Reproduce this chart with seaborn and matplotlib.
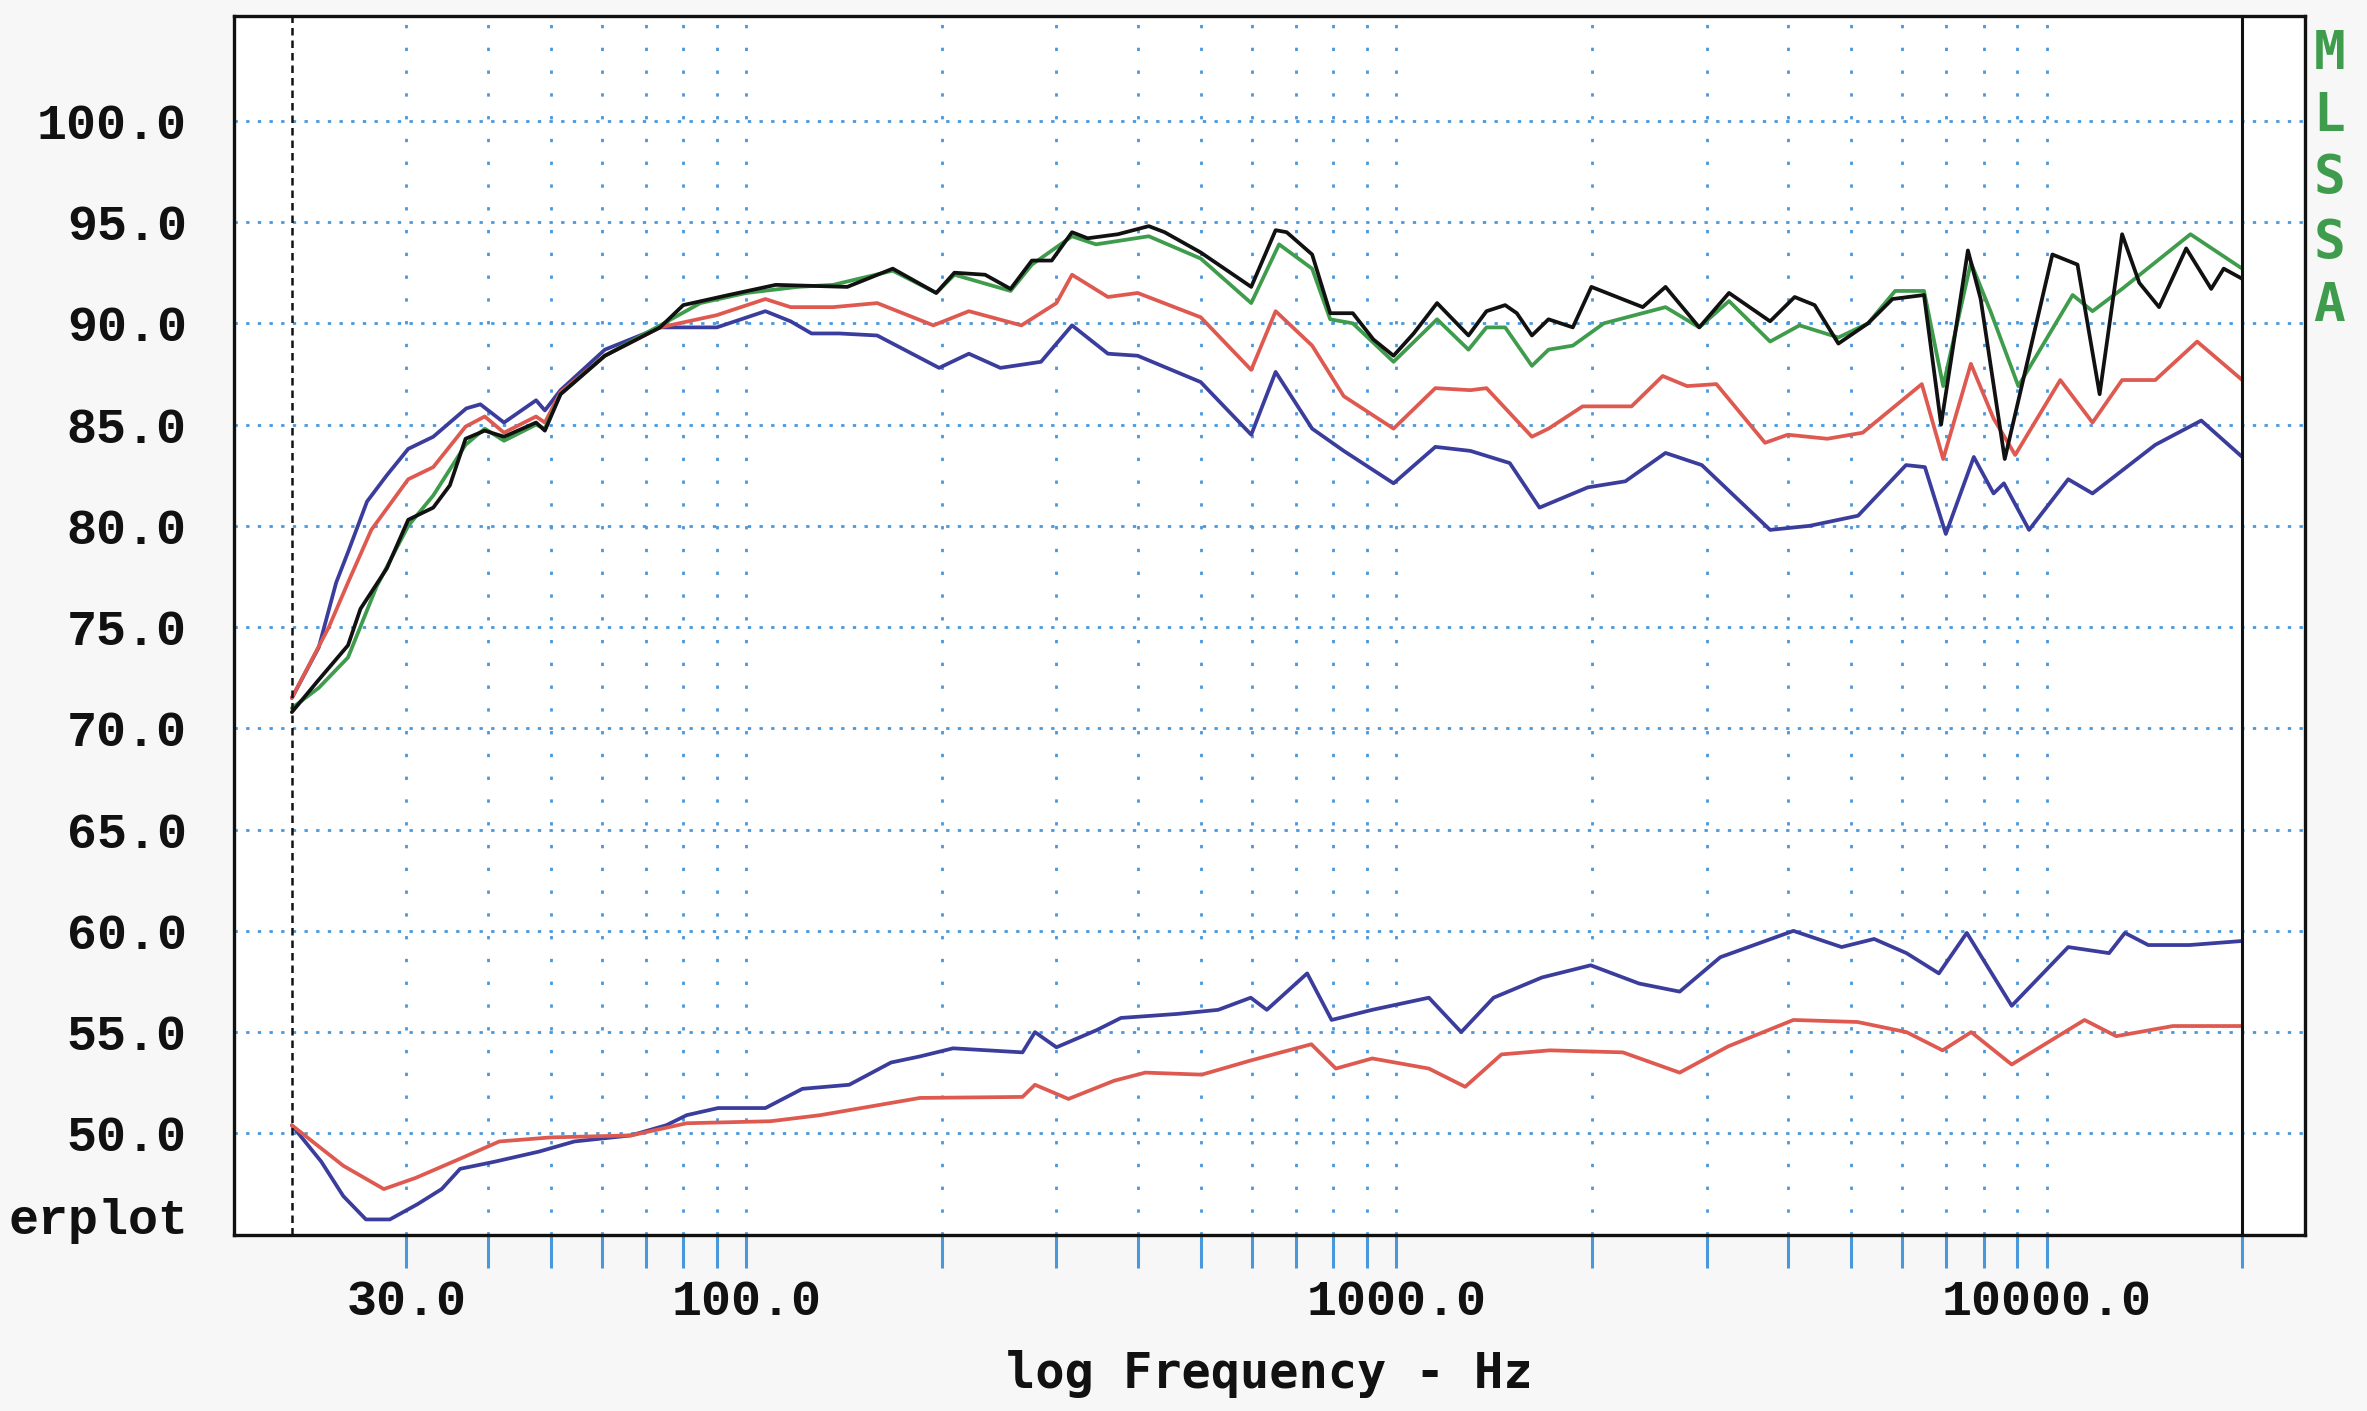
import matplotlib
matplotlib.use('Agg')
from matplotlib import pyplot as plt
import seaborn as sns

# upper group (frequency response)
black_f = [20, 22, 24.4, 25.5, 28, 30.2, 33, 35, 37, 39.6, 42.4, 47.5, 49, 51.8, 60.6, 73.7, 80, 94, 111,
           143, 168, 196, 209, 233, 255, 275, 295, 317, 335, 373, 416, 440, 500, 598, 652, 678, 742, 791,
           857, 922, 990, 1063, 1155, 1291, 1376, 1470, 1532, 1616, 1714, 1868, 1995, 2393, 2594, 2923,
           3248, 3757, 4098, 4399, 4785, 5315, 5795, 6480, 6884, 7570, 7920, 8625, 10210, 11160, 12070,
           13070, 13890, 14900, 16400, 17920, 18730, 20000]
black_v = [70.8, 72.4, 74.1, 75.9, 77.9, 80.3, 80.9, 82.0, 84.3, 84.7, 84.4, 85.1, 84.7, 86.5, 88.4, 89.8,
           90.9, 91.4, 91.9, 91.8, 92.7, 91.5, 92.5, 92.4, 91.7, 93.1, 93.1, 94.5, 94.2, 94.4, 94.8, 94.5,
           93.5, 91.8, 94.6, 94.5, 93.4, 90.5, 90.5, 89.2, 88.4, 89.5, 91.0, 89.4, 90.6, 90.9, 90.5, 89.4,
           90.2, 89.8, 91.8, 90.8, 91.8, 89.8, 91.5, 90.1, 91.3, 90.9, 89.0, 90.0, 91.2, 91.4, 85.0, 93.6,
           91.2, 83.3, 93.4, 92.9, 86.5, 94.4, 92.0, 90.8, 93.7, 91.7, 92.7, 92.2]

green_f = [20, 22, 24.4, 27, 30.2, 33, 37, 39.6, 42.4, 47.5, 49, 51.8, 60.6, 73.7, 85, 100, 120, 136, 168,
           196, 209, 255, 275, 317, 345, 416, 500, 598, 660, 742, 791, 857, 990, 1155, 1291, 1376, 1470,
           1616, 1714, 1868, 2085, 2594, 2923, 3248, 3757, 4170, 4785, 5315, 5850, 6480, 6935, 7650,
           8200, 9050, 10970, 11770, 13070, 16650, 20000]
green_v = [71.0, 72.0, 73.5, 77.0, 80.0, 81.5, 84.0, 84.8, 84.2, 85.0, 84.8, 86.5, 88.4, 89.9, 91.0, 91.5,
           91.8, 91.9, 92.6, 91.5, 92.4, 91.6, 92.9, 94.3, 93.9, 94.3, 93.2, 91.0, 93.9, 92.7, 90.2, 90.0,
           88.1, 90.2, 88.7, 89.8, 89.8, 87.9, 88.7, 88.9, 90.0, 90.8, 89.8, 91.1, 89.1, 89.9, 89.3, 90.0,
           91.6, 91.6, 86.9, 93.0, 90.6, 86.9, 91.4, 90.6, 91.7, 94.4, 92.7]

red_f = [20, 22.8, 24.4, 26.5, 30.2, 33, 37, 39.6, 42.4, 47.5, 49, 51.8, 60.6, 73.7, 90, 107, 117, 136,
         159, 194, 220, 265, 300, 317, 360, 400, 500, 598, 652, 742, 830, 990, 1148, 1300, 1376, 1616,
         1714, 1934, 2300, 2568, 2800, 3106, 3690, 4000, 4600, 5215, 6430, 6935, 7650, 8290, 8950,
         10500, 11770, 13070, 14700, 17050, 20000]
red_v = [71.5, 75.0, 77.2, 79.8, 82.3, 82.9, 84.9, 85.4, 84.6, 85.4, 85.1, 86.6, 88.4, 89.8, 90.4, 91.2,
         90.8, 90.8, 91.0, 89.9, 90.6, 89.9, 91.0, 92.4, 91.3, 91.5, 90.3, 87.7, 90.6, 88.9, 86.4, 84.8,
         86.8, 86.7, 86.8, 84.4, 84.8, 85.9, 85.9, 87.4, 86.9, 87.0, 84.1, 84.5, 84.3, 84.6, 87.0, 83.3,
         88.0, 85.3, 83.5, 87.2, 85.1, 87.2, 87.2, 89.1, 87.2]

blue_f = [20, 22, 23.4, 24.4, 26.1, 28, 30.2, 33, 37.1, 39, 42.4, 47.5, 49, 51.8, 60.6, 73.7, 90.1, 107,
          117, 126, 139, 159, 198, 220, 246, 284, 317, 360, 400, 500, 598, 652, 742, 830, 990, 1148, 1300,
          1494, 1660, 1970, 2250, 2594, 2950, 3757, 4320, 5130, 6080, 6500, 7000, 7730, 8290, 8600, 9400,
          10800, 11770, 14700, 17300, 20000]
blue_v = [71.5, 74.0, 77.2, 78.7, 81.2, 82.5, 83.8, 84.4, 85.8, 86.0, 85.1, 86.2, 85.7, 86.7, 88.7, 89.8,
          89.8, 90.6, 90.1, 89.5, 89.5, 89.4, 87.8, 88.5, 87.8, 88.1, 89.9, 88.5, 88.4, 87.1, 84.5, 87.6,
          84.8, 83.7, 82.1, 83.9, 83.7, 83.1, 80.9, 81.9, 82.2, 83.6, 83.0, 79.8, 80.0, 80.5, 83.0, 82.9,
          79.6, 83.4, 81.6, 82.1, 79.8, 82.3, 81.6, 84.0, 85.2, 83.4]

# lower group (distortion)
blue_lo_f = [20, 22.2, 24, 26, 28.3, 31.2, 34, 36.3, 41, 48, 54.4, 66.5, 75.3, 81, 90.5, 107, 122, 144,
             167, 185, 208, 266, 278, 300, 346, 377, 461, 532, 597, 632, 729, 795, 918, 1122, 1258, 1411,
             1675, 1990, 2362, 2727, 3150, 4080, 4840, 5430, 6090, 6830, 7540, 8840, 10800, 12480, 13200,
             14340, 16600, 20000]
blue_lo_v = [50.4, 48.6, 46.9, 45.75, 45.75, 46.5, 47.25, 48.25, 48.6, 49.1, 49.6, 49.9, 50.4, 50.9, 51.25,
             51.25, 52.2, 52.4, 53.5, 53.8, 54.2, 54.0, 55.0, 54.25, 55.1, 55.7, 55.9, 56.1, 56.7, 56.1,
             57.9, 55.6, 56.1, 56.7, 55.0, 56.7, 57.7, 58.3, 57.4, 57.0, 58.7, 60.0, 59.2, 59.6, 58.9, 57.9,
             59.9, 56.3, 59.2, 58.9, 59.9, 59.3, 59.3, 59.5]

red_lo_f = [20, 24, 27.7, 31, 36.3, 41.7, 50, 66.5, 81, 109, 130, 185, 266, 278, 313, 368, 411, 502, 597,
            740, 807, 918, 1122, 1276, 1451, 1723, 2230, 2727, 3240, 4080, 5120, 6090, 6920, 7660, 8840,
            11440, 12800, 15640, 20000]
red_lo_v = [50.4, 48.4, 47.25, 47.8, 48.75, 49.6, 49.8, 49.9, 50.5, 50.6, 50.9, 51.75, 51.8, 52.4, 51.7,
            52.6, 53.0, 52.9, 53.6, 54.4, 53.2, 53.7, 53.2, 52.3, 53.9, 54.1, 54.0, 53.0, 54.3, 55.6, 55.5,
            55.0, 54.1, 55.0, 53.4, 55.6, 54.8, 55.3, 55.3]

x_major = [30, 100, 1000, 10000]
x_labels = ['30.0', '100.0', '1000.0', '10000.0']
x_minor = [40, 50, 60, 70, 80, 90, 200, 300, 400, 500, 600, 700, 800, 900,
           2000, 3000, 4000, 5000, 6000, 7000, 8000, 9000, 20000]
y_ticks = [50, 55, 60, 65, 70, 75, 80, 85, 90, 95, 100]

sns.set_style('white')
plt.rcParams['font.family'] = ['Liberation Mono', 'DejaVu Sans Mono']

fig = plt.figure(figsize=(23.67, 14.11), dpi=100, facecolor='#f7f7f7')
ax = fig.add_axes([0.0989, 0.125, 0.875, 0.864])
ax.set_facecolor('white')
ax.set_xscale('log')

grid_blue = '#4a98dc'
ax.set_xticks(x_major)
ax.set_xticks(x_minor, minor=True)
ax.set_xticklabels(x_labels)
ax.set_yticks(y_ticks)
ax.set_yticklabels(['%.1f' % v for v in y_ticks])
ax.grid(which='both', axis='x', color=grid_blue, linestyle=(0, (1.2, 7)), lw=2)
ax.grid(which='major', axis='y', color=grid_blue, linestyle=(0, (1.2, 3)), lw=2)

BLUE = '#3b3d9c'
RED = '#de5a50'
GREEN = '#3f9c4c'
BLACK = '#111111'
lw = 2.7
for f, v, c in [(blue_lo_f, blue_lo_v, BLUE), (red_lo_f, red_lo_v, RED),
                (blue_f, blue_v, BLUE), (red_f, red_v, RED),
                (green_f, green_v, GREEN), (black_f, black_v, BLACK)]:
    sns.lineplot(x=f, y=v, ax=ax, color=c, lw=lw, estimator=None)

ax.axvline(20, color=BLACK, lw=1.8, ls=(0, (3, 2)))
ax.axvline(20000, color=BLACK, lw=2.2)

ax.set_xlim(16.3, 25000)
ax.set_ylim(45, 105.2)

ax.tick_params(axis='x', which='both', direction='out', length=24, width=2.2,
               color=grid_blue, pad=8, bottom=True)
ax.tick_params(axis='y', length=0, pad=34)
for lab in ax.get_xticklabels() + ax.get_yticklabels():
    lab.set_fontsize(36)
    lab.set_fontweight('bold')
    lab.set_color('#111111')

for s in ax.spines.values():
    s.set_color(BLACK)
    s.set_linewidth(2.4)

ax.set_xlabel('log Frequency - Hz', fontsize=35, fontweight='bold',
              family='DejaVu Sans Mono', labelpad=18, color='#111111')
ax.set_ylabel('')

# label at the lower left, as much of it as the reference shows
fig.text(0.0798, 0.135, 'erplot', ha='right', va='center', fontsize=36,
         fontweight='bold', color='#111111')

for ch, yy in zip('MLSSA', [0.962, 0.918, 0.874, 0.828, 0.783]):
    fig.text(0.984, yy, ch, ha='center', va='center', fontsize=38, fontweight='bold',
             family='DejaVu Sans Mono', color=GREEN)

fig.savefig('out.png', dpi=100, facecolor=fig.get_facecolor())
